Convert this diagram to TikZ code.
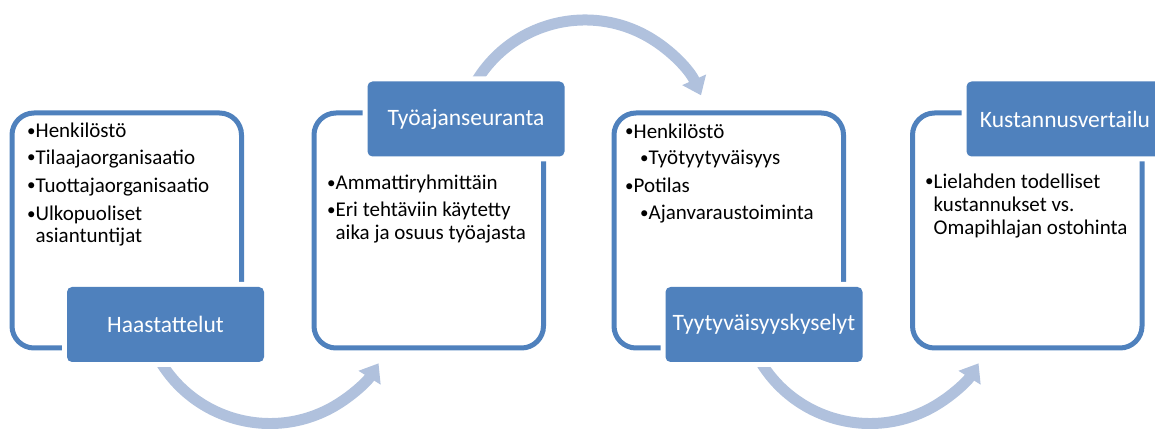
\documentclass[tikz,border=0pt]{standalone}
\usepackage{fontspec}
\setmainfont{Carlito}
\usetikzlibrary{arrows.meta}
\definecolor{accent}{RGB}{79,129,189}
\definecolor{flow}{RGB}{176,193,221}
\newcommand\itembul{{\fontsize{17}{17}\selectfont\raisebox{0.08em}{•}}}
\tikzset{
  outline/.style={draw=accent, line width=5pt, rounded corners=22pt, fill=white,
    minimum width=229.5pt, minimum height=235pt, inner sep=0pt},
  label/.style={fill=accent, rounded corners=5pt,
    preaction={draw=white, line width=10pt, rounded corners=5pt},
    text=white, font=\fontsize{23.5}{28}\selectfont,
    minimum width=197pt, minimum height=75pt, inner sep=0pt},
  item/.style={anchor=base west, inner sep=0pt, font=\fontsize{21}{25}\selectfont, text=black},
  flowarrow/.style={draw=flow, line width=11pt, -{Triangle[width=25pt,length=17pt]}},
}
\begin{document}
\begin{tikzpicture}[x=1pt,y=1pt]
\useasboundingbox (0,0) rectangle (1155,428);
\clip (0,0) rectangle (1155,428);
% flow arrows
\coordinate (c1) at (270,132.5);
\coordinate (c2) at (585,281);
\coordinate (c3) at (870,132.5);
\draw[flowarrow] (c1) ++(210:128) arc[start angle=210, end angle=328, radius=128];
\draw[flowarrow] (c2) ++(150:127) arc[start angle=150, end angle=24, radius=127];
\draw[flowarrow] (c3) ++(210:128) arc[start angle=210, end angle=328, radius=128];
% outline boxes
\node[outline] (b1) at (126.75,197.5) {};
\node[outline] (b2) at (428.75,197.5) {};
\node[outline] (b3) at (728.75,197.5) {};
\node[outline] (b4) at (1027.25,197.5) {};
% labels
\node[label] (l1) at (165.5,103.5) {Haastattelut};
\node[label] (l2) at (466,309) {Työajanseuranta};
\node[label] (l3) at (764,103.5) {Tyytyväisyyskyselyt};
\node[label] (l4) at (1065,309) {Kustannusvertailu};
% box 1 text
\node[item] (t11) at (27,290.3) {\itembul Henkilöstö};
\node[item] (t12) at (27,263.7) {\itembul Tilaajaorganisaatio};
\node[item] (t13) at (27,235.7) {\itembul Tuottajaorganisaatio};
\node[item] (t14) at (27,207.3) {\itembul Ulkopuoliset};
\node[item] (t15) at (27,185) {\phantom{\itembul}asiantuntijat};
% box 2 text
\node[item] (t21) at (327,238) {\itembul Ammattiryhmittäin};
\node[item] (t22) at (327,211.3) {\itembul Eri tehtäviin käytetty};
\node[item] (t23) at (327,188) {\phantom{\itembul}aika ja osuus työajasta};
% box 3 text
\node[item] (t31) at (625,289.7) {\itembul Henkilöstö};
\node[item] (t32) at (640,263) {\itembul Työtyytyväisyys};
\node[item] (t33) at (625,235) {\itembul Potilas};
\node[item] (t34) at (640,208) {\itembul Ajanvaraustoiminta};
% box 4 text
\node[item] (t41) at (925,239.7) {\itembul Lielahden todelliset};
\node[item] (t42) at (925,216.3) {\phantom{\itembul}kustannukset vs.};
\node[item] (t43) at (925,193) {\phantom{\itembul}Omapihlajan ostohinta};
\end{tikzpicture}
\end{document}
